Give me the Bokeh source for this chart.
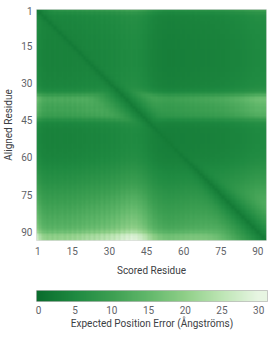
import numpy as np
from bokeh.plotting import figure
from bokeh.models import LinearColorMapper, Range1d, FixedTicker
from bokeh.layouts import column
from bokeh.embed import file_html
from bokeh.resources import INLINE

# ---- data ----
n_res = 93
# typical off-diagonal expected position error per aligned residue (rows)
row_err = [7.5, 5.6, 4.8, 4.5, 4.4, 4.3, 4.2, 4.2, 4.1, 4.1,
           4.0, 4.0, 3.9, 3.9, 3.9, 3.9, 3.8, 3.8, 3.8, 3.8,
           3.8, 3.8, 3.8, 3.9, 3.9, 4.0, 4.0, 4.1, 4.2, 4.3,
           4.4, 4.7, 5.3, 6.8, 9.5, 12.0, 12.5, 12.0, 11.5, 11.0,
           11.0, 10.5, 10.0, 8.5, 6.5, 5.0, 4.4, 4.1, 3.9, 3.9,
           3.8, 3.8, 3.8, 3.8, 3.9, 3.9, 4.0, 4.1, 4.2, 4.3,
           4.5, 4.7, 4.9, 5.2, 5.5, 5.8, 6.1, 6.4, 6.7, 7.0,
           7.4, 7.8, 8.2, 8.6, 9.0, 9.4, 9.8, 10.2, 10.6, 11.0,
           11.4, 11.8, 12.2, 12.6, 13.0, 13.4, 13.8, 14.4, 15.5, 17.0,
           20.0, 21.0, 21.5]
# relative error factor per scored residue (columns)
col_factor = [1.25, 1.10, 1.00, 0.97, 0.93, 0.96, 0.92, 0.97, 0.93, 0.96,
              0.98, 0.94, 0.99, 0.95, 1.01, 0.97, 1.03, 0.99, 1.05, 1.01,
              1.07, 1.03, 1.09, 1.04, 1.11, 1.07, 1.15, 1.09, 1.17, 1.13,
              1.21, 1.16, 1.25, 1.21, 1.31, 1.27, 1.35, 1.31, 1.39, 1.35,
              1.36, 1.29, 1.27, 1.19, 1.15, 1.05, 1.01, 0.93, 0.91, 0.85,
              0.85, 0.81, 0.81, 0.79, 0.81, 0.79, 0.82, 0.81, 0.83, 0.82,
              0.85, 0.84, 0.87, 0.85, 0.88, 0.87, 0.89, 0.88, 0.91, 0.89,
              0.92, 0.91, 0.94, 0.93, 0.96, 0.95, 0.99, 0.99, 1.03, 1.03,
              1.07, 1.07, 1.11, 1.12, 1.17, 1.18, 1.23, 1.24, 1.28, 1.28,
              1.31, 1.30, 1.32]
diag_err = 2.4        # error on the diagonal
diag_growth = 0.8     # error growth per residue of separation
residue_ticks = [1, 15, 30, 45, 60, 75, 90]
err_ticks = [0, 5, 10, 15, 20, 25, 30]
err_max = 30

# ---- matrix ----
idx = np.arange(1, n_res + 1)
off = np.outer(np.array(row_err), np.array(col_factor))
near = diag_err + diag_growth * np.abs(idx[:, None] - idx[None, :])
pae = (off ** -6 + near ** -6) ** (-1 / 6)

# ---- palette ----
stops = [(0, "#0b6e2e"), (5, "#1f8a41"), (10, "#3d9f52"), (15, "#62b86b"),
         (20, "#8fcf88"), (25, "#bde5b4"), (30, "#e7f5e2")]
def hex2rgb(h):
    return [int(h[k:k + 2], 16) for k in (1, 3, 5)]
sv = [s[0] for s in stops]
sc = np.array([hex2rgb(s[1]) for s in stops], dtype=float)
palette = []
for t in np.linspace(0, err_max, 256):
    rgb = [np.interp(t, sv, sc[:, k]) for k in range(3)]
    palette.append("#%02x%02x%02x" % tuple(int(round(v)) for v in rgb))
mapper = LinearColorMapper(palette=palette, low=0, high=err_max)

FONT = "Roboto"
TICK_C = "#5f6368"
LAB_C = "#3c4043"

def style_axis(ax):
    ax.axis_line_color = None
    ax.major_tick_line_color = None
    ax.minor_tick_line_color = None
    ax.major_tick_out = 0
    ax.major_tick_in = 0
    ax.minor_tick_out = 0
    ax.major_label_text_font = FONT
    ax.major_label_text_font_size = "10px"
    ax.major_label_text_color = TICK_C
    ax.major_label_text_line_height = 1.0
    ax.axis_label_text_font = FONT
    ax.axis_label_text_font_size = "10px"
    ax.axis_label_text_font_style = "normal"
    ax.axis_label_text_color = LAB_C
    ax.axis_label_text_line_height = 1.0

p = figure(frame_width=230, frame_height=231, output_backend="svg", toolbar_location=None,
           x_range=Range1d(0.5, n_res + 0.5), y_range=Range1d(n_res + 0.5, 0.5),
           min_border_left=36, min_border_right=5, min_border_top=9, min_border_bottom=10)
p.image(image=[pae], x=0.5, y=0.5, dw=n_res, dh=n_res, color_mapper=mapper)
p.grid.grid_line_color = None
p.outline_line_color = "#dddddd"
p.xaxis.ticker = FixedTicker(ticks=residue_ticks)
p.yaxis.ticker = FixedTicker(ticks=residue_ticks)
p.xaxis.axis_label = "Scored Residue"
p.yaxis.axis_label = "Aligned Residue"
style_axis(p.xaxis[0])
style_axis(p.yaxis[0])
p.xaxis.major_label_standoff = 6
p.xaxis.axis_label_standoff = 7
p.yaxis.major_label_standoff = 4
p.yaxis.axis_label_standoff = 4

lo, hi = -0.27, 31.2
c = figure(frame_width=231, frame_height=11, output_backend="svg", toolbar_location=None,
           x_range=Range1d(lo, hi), y_range=Range1d(0, 1),
           min_border_left=36, min_border_right=4, min_border_top=12, min_border_bottom=10)
grad = np.linspace(lo, hi, 400)[None, :]
c.image(image=[grad], x=lo, y=0, dw=hi - lo, dh=1, color_mapper=mapper)
c.grid.grid_line_color = None
c.yaxis.visible = False
c.outline_line_color = "#bbbbbb"
c.xaxis.ticker = FixedTicker(ticks=err_ticks)
c.xaxis.axis_label = "Expected Position Error (Ångströms)"
style_axis(c.xaxis[0])
c.xaxis.major_label_standoff = 4
c.xaxis.axis_label_standoff = 1

layout = column(p, c)
open("out.html", "w").write(file_html(layout, INLINE))
